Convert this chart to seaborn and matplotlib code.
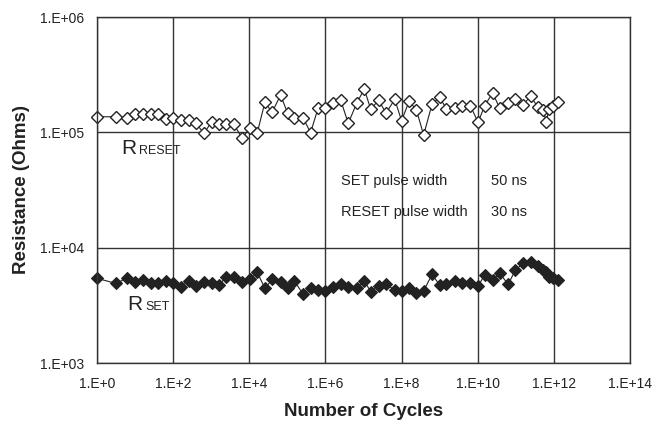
import numpy as np
import pandas as pd
import matplotlib
matplotlib.use('Agg')
import matplotlib.pyplot as plt
import seaborn as sns
from matplotlib.ticker import FixedLocator, FuncFormatter, NullLocator

# values, stored as log10 exponents
cycles_exp = [0, 0.5, 0.78, 1.0, 1.2, 1.41, 1.59, 1.8, 1.99, 2.2,
              2.41, 2.6, 2.81, 3.01, 3.2, 3.4, 3.6, 3.81, 4.02, 4.21,
              4.41, 4.6, 4.82, 5.01, 5.18, 5.41, 5.61, 5.81, 6.0, 6.2,
              6.4, 6.6, 6.82, 7.02, 7.19, 7.4, 7.59, 7.82, 8.0, 8.2,
              8.39, 8.58, 8.8, 9.0, 9.18, 9.4, 9.59, 9.81, 10.01, 10.18,
              10.39, 10.58, 10.8, 10.99, 11.19, 11.39, 11.58, 11.72, 11.8, 11.87,
              11.99, 12.11]

r_reset_exp = [5.135, 5.135, 5.121, 5.156, 5.156, 5.156, 5.156, 5.115, 5.127, 5.107,
               5.107, 5.078, 4.991, 5.092, 5.069, 5.069, 5.069, 4.948, 5.040, 4.997,
               5.260, 5.173, 5.323, 5.165, 5.127, 5.127, 4.997, 5.213, 5.208, 5.252,
               5.280, 5.078, 5.252, 5.376, 5.200, 5.280, 5.165, 5.286, 5.101, 5.271,
               5.193, 4.977, 5.243, 5.304, 5.202, 5.208, 5.228, 5.228, 5.087, 5.228,
               5.343, 5.208, 5.252, 5.286, 5.237, 5.315, 5.217, 5.190, 5.090, 5.200,
               5.230, 5.260]

r_set_exp = [3.734, 3.690, 3.734, 3.699, 3.719, 3.690, 3.690, 3.713, 3.690, 3.661,
             3.710, 3.670, 3.704, 3.690, 3.676, 3.748, 3.748, 3.699, 3.725, 3.786,
             3.647, 3.725, 3.699, 3.647, 3.713, 3.598, 3.647, 3.632, 3.626, 3.661,
             3.684, 3.661, 3.647, 3.713, 3.618, 3.670, 3.684, 3.632, 3.624, 3.647,
             3.604, 3.624, 3.768, 3.676, 3.682, 3.710, 3.696, 3.696, 3.667, 3.762,
             3.719, 3.777, 3.682, 3.806, 3.864, 3.878, 3.840, 3.806, 3.788, 3.745,
             3.736, 3.719]

x_ticks_exp = [0, 2, 4, 6, 8, 10, 12, 14]
y_ticks_exp = [3, 4, 5, 6]

df = pd.DataFrame({
    'cycles': 10.0 ** np.array(cycles_exp),
    'R_RESET': 10.0 ** np.array(r_reset_exp),
    'R_SET': 10.0 ** np.array(r_set_exp),
})

sns.set_style('white')
plt.rcParams['font.family'] = ['Liberation Sans', 'DejaVu Sans']

ink = '#222222'
fig = plt.figure(figsize=(6.67, 4.28), dpi=100)
ax = fig.add_axes([97 / 667, 1 - 363 / 428, (630 - 97) / 667, (363 - 17) / 428])

sns.lineplot(data=df, x='cycles', y='R_RESET', ax=ax, color=ink, linewidth=0.8,
             marker='D', markersize=6, markerfacecolor='white',
             markeredgecolor=ink, markeredgewidth=1.0, clip_on=False)
sns.lineplot(data=df, x='cycles', y='R_SET', ax=ax, color=ink, linewidth=0.8,
             marker='D', markersize=6.5, markerfacecolor=ink,
             markeredgecolor=ink, markeredgewidth=0.8, clip_on=False)

ax.set_xscale('log')
ax.set_yscale('log')
ax.set_xlim(1, 1e14)
ax.set_ylim(1e3, 1e6)

ax.xaxis.set_major_locator(FixedLocator([10.0 ** e for e in x_ticks_exp]))
ax.yaxis.set_major_locator(FixedLocator([10.0 ** e for e in y_ticks_exp]))
ax.xaxis.set_minor_locator(NullLocator())
ax.yaxis.set_minor_locator(NullLocator())
ax.xaxis.set_major_formatter(FuncFormatter(lambda v, p: '1.E+%d' % round(np.log10(v))))
ax.yaxis.set_major_formatter(FuncFormatter(lambda v, p: '1.E+%02d' % round(np.log10(v))))

ax.grid(True, which='major', color='#333333', linewidth=1.0)
ax.set_axisbelow(True)
for s in ax.spines.values():
    s.set_color('#333333')
    s.set_linewidth(1.0)

ax.tick_params(axis='both', which='major', direction='out', length=5, width=1,
               color='#333333', labelsize=10, labelcolor=ink, pad=4)
ax.tick_params(axis='x', pad=5)

ax.set_xlabel('Number of Cycles', fontsize=13.5, fontweight='bold', labelpad=9, color=ink)
ax.set_ylabel('')

# series labels
fig.text(121 / 667, 1 - 154 / 428, 'R', fontsize=15, color=ink)
fig.text(139 / 667, 1 - 154 / 428, 'RESET', fontsize=9, color=ink)
fig.text(127 / 667, 1 - 310 / 428, 'R', fontsize=15, color=ink)
fig.text(145 / 667, 1 - 310 / 428, 'SET', fontsize=9, color=ink)

# pulse width notes
fig.text(341 / 667, 1 - 185 / 428, 'SET pulse width', fontsize=10.5, color=ink)
fig.text(491 / 667, 1 - 185 / 428, '50 ns', fontsize=10.5, color=ink)
fig.text(341 / 667, 1 - 216 / 428, 'RESET pulse width', fontsize=10.5, color=ink)
fig.text(491 / 667, 1 - 216 / 428, '30 ns', fontsize=10.5, color=ink)

fig.text(22 / 667, 1 - 190 / 428, 'Resistance (Ohms)', fontsize=13.5, fontweight='bold',
         rotation=90, ha='center', va='center', color=ink)

fig.savefig('out.png', dpi=100, facecolor='white')
